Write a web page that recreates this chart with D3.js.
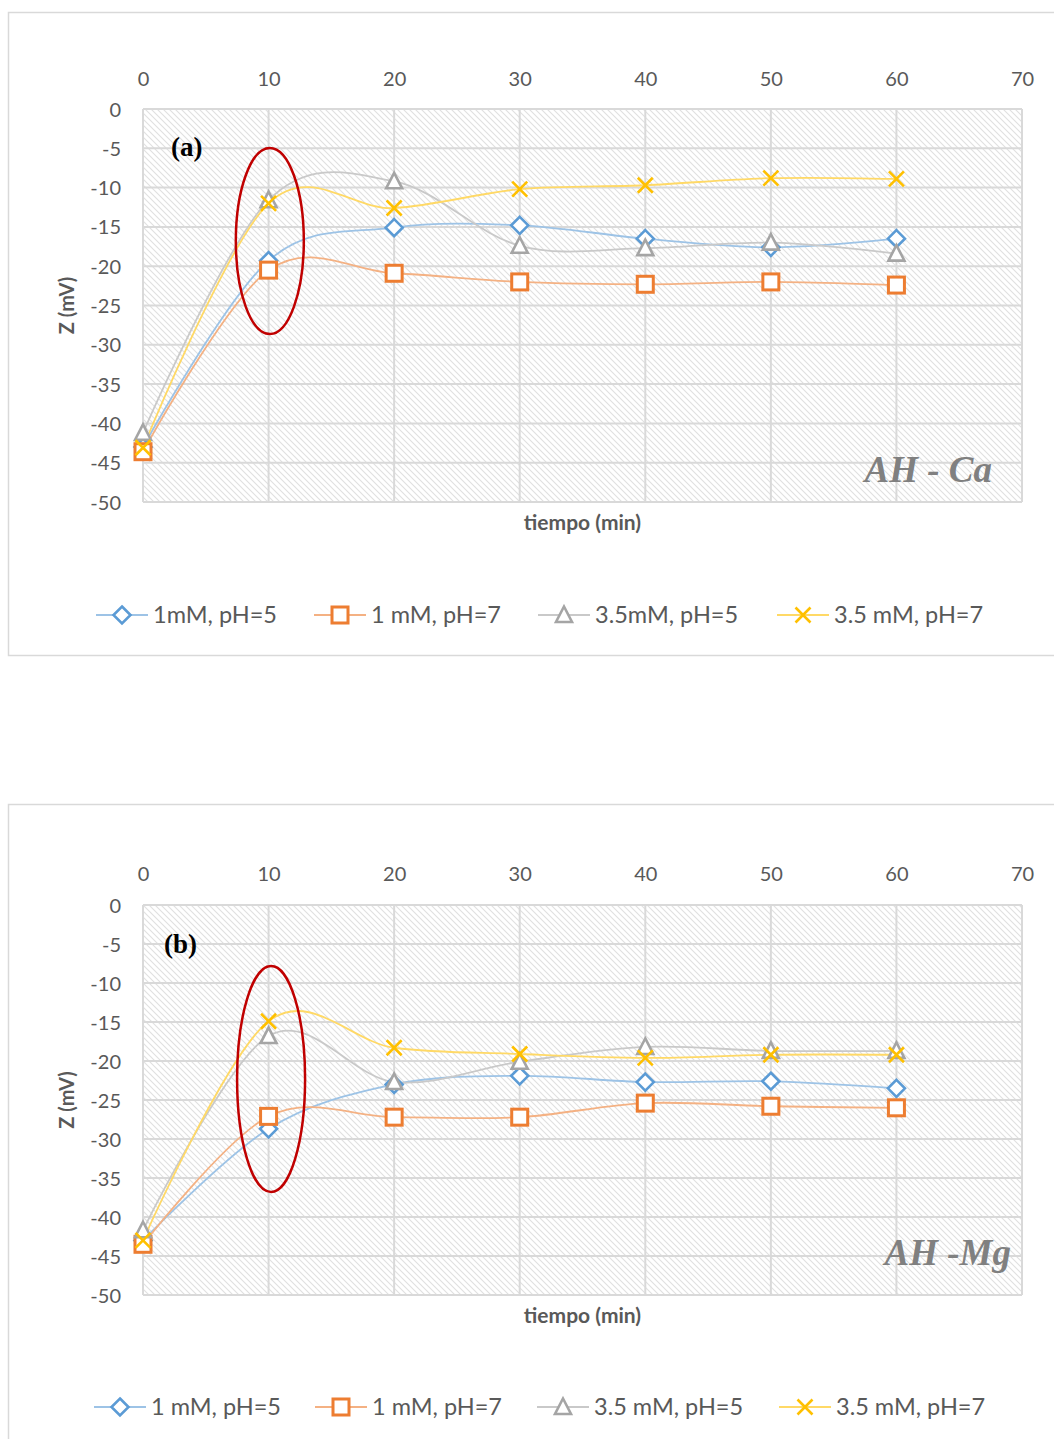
<!DOCTYPE html>
<html>
<head>
<meta charset="utf-8">
<script src="https://cdn.jsdelivr.net/npm/d3@7"></script>
<style>
  body { margin: 0; background: #fff; }
  svg { display: block; }
</style>
</head>
<body>
<div id="viz"></div>
<script>
// Datos
const tiempo = [0, 10, 20, 30, 40, 50, 60];
const xTicks = [0, 10, 20, 30, 40, 50, 60, 70];
const yTicks = [0, -5, -10, -15, -20, -25, -30, -35, -40, -45, -50];

// (a) AH - Ca
const ca_1mM_pH5 = [-43.0, -19.3, -15.1, -14.8, -16.5, -17.6, -16.5];
const ca_1mM_pH7 = [-43.6, -20.5, -20.9, -22.0, -22.3, -22.0, -22.4];
const ca_35mM_pH5 = [-41.2, -11.6, -9.2, -17.4, -17.7, -17.0, -18.4];
const ca_35mM_pH7 = [-43.1, -12.0, -12.6, -10.2, -9.7, -8.8, -8.9];
const legendA = ['1mM, pH=5', '1 mM, pH=7', '3.5mM, pH=5', '3.5 mM, pH=7'];

// (b) AH - Mg
const mg_1mM_pH5 = [-43.0, -28.7, -23.0, -21.9, -22.7, -22.6, -23.5];
const mg_1mM_pH7 = [-43.5, -27.1, -27.2, -27.2, -25.4, -25.8, -26.0];
const mg_35mM_pH5 = [-41.7, -16.8, -22.7, -20.1, -18.2, -18.7, -18.7];
const mg_35mM_pH7 = [-43.0, -14.9, -18.3, -19.1, -19.6, -19.2, -19.2];
const legendB = ['1 mM, pH=5', '1 mM, pH=7', '3.5 mM, pH=5', '3.5 mM, pH=7'];

const config = {
  width: 1054,
  height: 1439,
  plotLeft: 143,
  plotRight: 1022
}

const seriesStyle = [
  {marker: 'diamond', stroke: '#5B9BD5', line: '#9DC3E6'},
  {marker: 'square', stroke: '#ED7D31', line: '#F4B183'},
  {marker: 'triangle', stroke: '#A5A5A5', line: '#C9C9C9'},
  {marker: 'cross', stroke: '#FFC000', line: '#FFD966'}
]

const fontSans = 'Lato, "Open Sans", sans-serif';
const fontSerif = '"Liberation Serif", "DejaVu Serif", serif';

const svg = d3.select('#viz').append('svg')
  .attr('width', config.width)
  .attr('height', config.height);

// Patrón rayado del área de trazado
const defs = svg.append('defs');
const pattern = defs.append('pattern')
  .attr('id', 'hatch')
  .attr('patternUnits', 'userSpaceOnUse')
  .attr('width', 6)
  .attr('height', 6);
pattern.append('rect').attr('width', 6).attr('height', 6).attr('fill', '#fff');
pattern.append('path')
  .attr('d', 'M0,0 L6,6 M-1,5 L1,7 M5,-1 L7,1')
  .attr('stroke', '#e0e0e0')
  .attr('stroke-width', 1.1);

const xScale = d3.scaleLinear().domain([0, 70]).range([config.plotLeft, config.plotRight]);

drawChart({
  frameTop: 12, frameBottom: 655,
  top: 109, bottom: 502,
  xLabelY: 78,
  series: [ca_1mM_pH5, ca_1mM_pH7, ca_35mM_pH5, ca_35mM_pH7],
  legend: legendA,
  legendY: 615,
  legendX: [96, 314, 538, 777],
  tag: '(a)', tagX: 171, tagY: 156,
  name: 'AH - Ca', nameX: 992, nameY: 482,
  ellipse: {x: 10.1, y: -16.8, rx: 34, ry: 93}
});

drawChart({
  frameTop: 804, frameBottom: 1460,
  top: 905, bottom: 1295,
  xLabelY: 873,
  series: [mg_1mM_pH5, mg_1mM_pH7, mg_35mM_pH5, mg_35mM_pH7],
  legend: legendB,
  legendY: 1407,
  legendX: [94, 315, 537, 779],
  tag: '(b)', tagX: 164, tagY: 953,
  name: 'AH -Mg', nameX: 1011, nameY: 1265,
  ellipse: {x: 10.2, y: -22.3, rx: 34, ry: 113}
});

function drawChart (c) {
  const yScale = d3.scaleLinear().domain([-50, 0]).range([c.bottom, c.top]);
  const g = svg.append('g');

  // Marco
  g.append('rect')
    .attr('x', 8.5).attr('y', c.frameTop + 0.5)
    .attr('width', 1060).attr('height', c.frameBottom - c.frameTop)
    .attr('fill', 'none')
    .attr('stroke', '#d9d9d9')
    .attr('stroke-width', 1.5);

  // Área de trazado
  g.append('rect')
    .attr('x', xScale(0)).attr('y', yScale(0))
    .attr('width', xScale(70) - xScale(0))
    .attr('height', yScale(-50) - yScale(0))
    .attr('fill', 'url(#hatch)');

  // Cuadrícula
  g.append('g').selectAll('line')
    .data(yTicks)
    .enter().append('line')
    .attr('x1', xScale(0)).attr('x2', xScale(70))
    .attr('y1', d => yScale(d)).attr('y2', d => yScale(d))
    .attr('stroke', '#d9d9d9').attr('stroke-width', 2);
  g.append('g').selectAll('line')
    .data(xTicks)
    .enter().append('line')
    .attr('x1', d => xScale(d)).attr('x2', d => xScale(d))
    .attr('y1', yScale(0)).attr('y2', yScale(-50))
    .attr('stroke', '#d9d9d9').attr('stroke-width', 2);

  // Ejes
  const xAxis = g.append('g')
    .attr('transform', `translate(0, ${c.xLabelY + 8})`)
    .call(d3.axisTop(xScale).tickValues(xTicks).tickSize(0).tickPadding(0).tickFormat(d => d));
  const yAxis = g.append('g')
    .attr('transform', 'translate(121, 0)')
    .call(d3.axisLeft(yScale).tickValues(yTicks).tickSize(0).tickPadding(0).tickFormat(d => String(d)));
  [xAxis, yAxis].forEach(ax => {
    ax.select('.domain').remove();
    ax.selectAll('text')
      .attr('font-family', fontSans)
      .attr('font-size', 20)
      .attr('fill', '#595959');
  });
  yAxis.selectAll('text').attr('dy', '0.35em');

  // Títulos de ejes
  g.append('text')
    .text('tiempo (min)')
    .attr('x', (xScale(0) + xScale(70)) / 2)
    .attr('y', c.bottom + 28)
    .attr('text-anchor', 'middle')
    .attr('font-family', fontSans)
    .attr('font-size', 21)
    .attr('font-weight', 'bold')
    .attr('fill', '#595959');
  g.append('text')
    .text('Z (mV)')
    .attr('transform', `translate(74, ${(c.top + c.bottom) / 2}) rotate(-90)`)
    .attr('text-anchor', 'middle')
    .attr('font-family', fontSans)
    .attr('font-size', 20)
    .attr('font-weight', 'bold')
    .attr('fill', '#595959');

  // Líneas suavizadas
  const line = d3.line()
    .x((d, i) => xScale(tiempo[i]))
    .y(d => yScale(d))
    .curve(d3.curveCardinal.tension(0));
  c.series.forEach((s, k) => {
    g.append('path')
      .datum(s)
      .attr('d', line)
      .attr('fill', 'none')
      .attr('stroke', seriesStyle[k].line)
      .attr('stroke-width', 1.8);
  });

  // Marcadores
  c.series.forEach((s, k) => {
    s.forEach((v, i) => {
      drawMarker(g, seriesStyle[k], xScale(tiempo[i]), yScale(v));
    });
  });

  // Etiquetas
  g.append('text')
    .text(c.tag)
    .attr('x', c.tagX).attr('y', c.tagY)
    .attr('font-family', fontSerif)
    .attr('font-size', 27)
    .attr('font-weight', 'bold')
    .attr('fill', '#000');
  g.append('text')
    .text(c.name)
    .attr('x', c.nameX).attr('y', c.nameY)
    .attr('text-anchor', 'end')
    .attr('font-family', fontSerif)
    .attr('font-size', 37)
    .attr('font-weight', 'bold')
    .attr('font-style', 'italic')
    .attr('fill', '#808080');

  // Elipse roja
  g.append('ellipse')
    .attr('cx', xScale(c.ellipse.x)).attr('cy', yScale(c.ellipse.y))
    .attr('rx', c.ellipse.rx).attr('ry', c.ellipse.ry)
    .attr('fill', 'none')
    .attr('stroke', '#C00000')
    .attr('stroke-width', 2.5);

  // Leyenda
  const legend = g.append('g').attr('class', 'legend');
  c.legend.forEach((label, k) => {
    const x0 = c.legendX[k];
    legend.append('line')
      .attr('x1', x0).attr('x2', x0 + 52)
      .attr('y1', c.legendY).attr('y2', c.legendY)
      .attr('stroke', seriesStyle[k].line)
      .attr('stroke-width', 1.8);
    drawMarker(legend, seriesStyle[k], x0 + 26, c.legendY);
    legend.append('text')
      .text(label)
      .attr('x', x0 + 57).attr('y', c.legendY)
      .attr('dy', '0.35em')
      .attr('font-family', fontSans)
      .attr('font-size', 23.5)
      .attr('fill', '#595959');
  });
}

function drawMarker (g, st, x, y) {
  const sw = 2.6;
  if (st.marker === 'diamond') {
    g.append('path')
      .attr('d', `M${x},${y - 8.5} L${x + 8.5},${y} L${x},${y + 8.5} L${x - 8.5},${y} Z`)
      .attr('fill', '#fff').attr('stroke', st.stroke).attr('stroke-width', sw);
  } else if (st.marker === 'square') {
    g.append('rect')
      .attr('x', x - 8).attr('y', y - 8)
      .attr('width', 16).attr('height', 16)
      .attr('fill', '#fff').attr('stroke', st.stroke).attr('stroke-width', sw + 0.4);
  } else if (st.marker === 'triangle') {
    g.append('path')
      .attr('d', `M${x},${y - 8.5} L${x + 8},${y + 7} L${x - 8},${y + 7} Z`)
      .attr('fill', '#fff').attr('stroke', st.stroke).attr('stroke-width', sw);
  } else {
    g.append('path')
      .attr('d', `M${x - 7.5},${y - 7.5} L${x + 7.5},${y + 7.5} M${x + 7.5},${y - 7.5} L${x - 7.5},${y + 7.5}`)
      .attr('fill', 'none').attr('stroke', st.stroke).attr('stroke-width', sw);
  }
}
</script>
</body>
</html>
